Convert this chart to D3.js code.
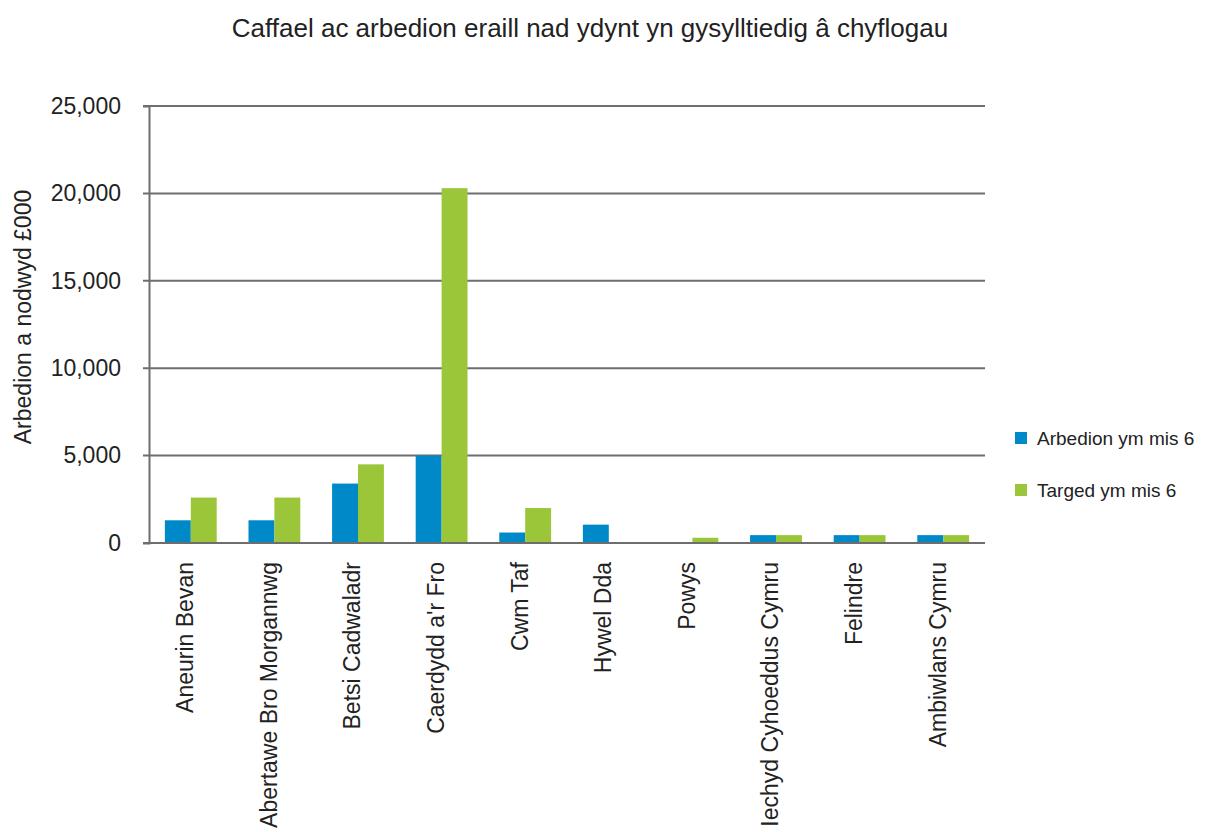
<!DOCTYPE html>
<html>
<head>
  <style>
    body { margin: 0; background: #fff; }
    text { font-family: "Liberation Sans", Arial, sans-serif; fill: #222; }
  </style>
  <title>Caffael ac arbedion eraill nad ydynt yn gysylltiedig â chyflogau</title>
</head>
<body>
  <script src="https://cdn.jsdelivr.net/npm/d3@7"></script>
  <script>
    // data (£000)
    const categories = ["Aneurin Bevan", "Abertawe Bro Morgannwg", "Betsi Cadwaladr", "Caerdydd a'r Fro",
      "Cwm Taf", "Hywel Dda", "Powys", "Iechyd Cyhoeddus Cymru", "Felindre", "Ambiwlans Cymru"];
    const seriesNames = ["Arbedion ym mis 6", "Targed ym mis 6"];
    const savings = [1300, 1300, 3400, 5000, 600, 1050, 0, 450, 450, 450];
    const targets = [2600, 2600, 4500, 20300, 2000, 0, 300, 450, 450, 450];
    const yTicks = [0, 5000, 10000, 15000, 20000, 25000];
    const colors = ["#0089c9", "#9bc63a"];

    const margin = { top: 106, right: 230, bottom: 289, left: 149 };
    const width = 1215 - margin.left - margin.right;
    const height = 832 - margin.top - margin.bottom;

    const svg = d3.select("body").append("svg")
      .attr("width", 1215)
      .attr("height", 832);

    const g = svg.append("g")
      .attr("transform", `translate(${margin.left},${margin.top})`);

    const x = d3.scaleBand().domain(categories).range([0, width]).paddingInner(0.38).paddingOuter(0.19);
    const x1 = d3.scaleBand().domain(seriesNames).range([0, x.bandwidth()]);
    const y = d3.scaleLinear().domain([0, 25000]).range([height, 0]);

    // gridlines
    g.append("g")
      .selectAll("line")
      .data(yTicks)
      .enter()
      .append("line")
      .attr("x1", -6)
      .attr("x2", width)
      .attr("y1", d => y(d))
      .attr("y2", d => y(d))
      .attr("stroke", "#6e6e6e")
      .attr("stroke-width", 2);

    // bars
    const rows = categories.map((c, i) => ({ cat: c, vals: [savings[i], targets[i]] }));
    g.selectAll(".group")
      .data(rows)
      .enter()
      .append("g")
      .attr("class", "group")
      .attr("transform", d => `translate(${x(d.cat)},0)`)
      .selectAll("rect")
      .data(d => d.vals.map((v, j) => ({ key: seriesNames[j], v: v, j: j })))
      .enter()
      .append("rect")
      .attr("x", d => x1(d.key))
      .attr("y", d => y(d.v))
      .attr("width", x1.bandwidth())
      .attr("height", d => height - y(d.v))
      .attr("fill", d => colors[d.j]);

    // y axis
    const yAxis = g.append("g")
      .call(d3.axisLeft(y).tickValues(yTicks).tickFormat(d3.format(",")).tickSize(6).tickPadding(22));
    yAxis.select(".domain").attr("stroke", "#6e6e6e").attr("stroke-width", 2);
    yAxis.selectAll(".tick line").attr("stroke", "none");
    yAxis.selectAll("text").style("font-size", "23px").attr("fill", "#222").style("font-family", "Liberation Sans, Arial, sans-serif");

    // baseline drawn again over bars
    g.append("line")
      .attr("x1", -6).attr("x2", width)
      .attr("y1", y(0)).attr("y2", y(0))
      .attr("stroke", "#6e6e6e").attr("stroke-width", 2);

    // x axis labels
    const xAxis = g.append("g")
      .attr("transform", `translate(0,${height})`)
      .call(d3.axisBottom(x).tickSize(0).tickPadding(0));
    xAxis.select(".domain").remove();
    xAxis.selectAll("text")
      .attr("transform", "rotate(-90)")
      .attr("x", -19)
      .attr("y", 0)
      .attr("dy", "0.1em")
      .style("text-anchor", "end")
      .style("font-size", "23px")
      .style("font-family", "Liberation Sans, Arial, sans-serif")
      .attr("fill", "#222");

    // y axis title
    svg.append("text")
      .attr("transform", "rotate(-90)")
      .attr("x", -317)
      .attr("y", 31)
      .style("text-anchor", "middle")
      .style("font-size", "23px")
      .text("Arbedion a nodwyd £000");

    // title
    svg.append("text")
      .attr("x", 590)
      .attr("y", 37)
      .style("text-anchor", "middle")
      .style("font-size", "26px")
      .text("Caffael ac arbedion eraill nad ydynt yn gysylltiedig â chyflogau");

    // legend
    const legend = svg.append("g")
      .attr("transform", "translate(1015,432)");
    const items = legend.selectAll("g")
      .data(seriesNames)
      .enter()
      .append("g")
      .attr("transform", (d, i) => `translate(0,${i * 52})`);
    items.append("rect")
      .attr("width", 12)
      .attr("height", 12)
      .attr("fill", (d, i) => colors[i]);
    items.append("text")
      .attr("x", 22)
      .attr("y", 6)
      .attr("dy", "0.35em")
      .style("font-size", "19px")
      .text(d => d);
  </script>
</body>
</html>
